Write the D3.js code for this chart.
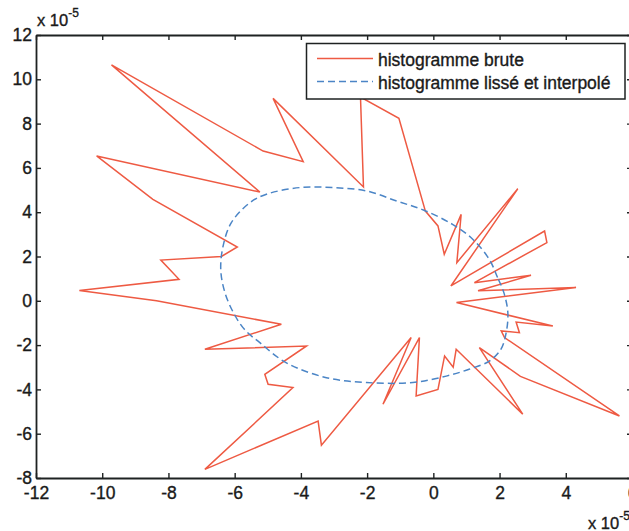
<html>
<head>
<script src="https://d3js.org/d3.v7.min.js"></script>
<style>
  body { margin: 0; background: #fff; }
  svg { display: block; }
  text { font-family: "Liberation Sans", Arial, sans-serif; fill: #1a1a1a; stroke: #1a1a1a; stroke-width: 0.35px; }
</style>
</head>
<body>
<svg id="chart" width="629" height="531"></svg>
<script>

// tick values (axis is in units of 1e-5)
var xTicks = [-12, -10, -8, -6, -4, -2, 0, 2, 4, 6];
var yTicks = [-8, -6, -4, -2, 0, 2, 4, 6, 8, 10, 12];

// raw histogram (polar), x 1e-5
var rawX = [4.31, 1.35, 2.95, 1.24, 3.43, 3.36, 0.53, 2.55, 0.71, 0.84, 0.33, 0.14,
  -0.24, -1.04, -2.20, -2.11, -4.84, -3.93, -5.14, -9.72, -5.24, -10.17, -8.47, -5.92,
  -6.40, -8.23, -7.68, -10.69, -8.36, -4.59, -6.90, -3.83, -5.09, -4.99, -4.24, -6.90,
  -3.48, -3.38, -0.67, -1.52, -0.42, -0.52, 0.14, 0.34, 0.60, 0.69, 2.70, 1.39,
  2.63, 5.62, 2.15, 2.05, 2.60, 2.50, 3.61, 0.70];
var rawY = [0.60, 0.45, 1.15, 0.82, 2.63, 3.15, 0.67, 5.06, 1.72, 3.90, 2.10, 3.38,
  4.05, 8.24, 9.20, 5.14, 9.14, 6.28, 6.76, 10.65, 4.91, 6.54, 4.58, 2.43,
  2.00, 1.84, 0.97, 0.47, 0.00, -1.06, -2.19, -2.04, -3.32, -3.77, -3.92, -7.61,
  -5.43, -6.52, -1.66, -4.67, -1.66, -4.30, -4.00, -2.49, -3.00, -2.19, -5.12, -2.11,
  -3.41, -5.20, -1.66, -1.36, -1.44, -0.96, -1.14, -0.08];

// smoothed + interpolated histogram
var smoothX = [2.13, 1.94, 1.69, 1.19, 0.58, -0.30, -1.10, -2.02, -3.03, -4.04, -5.04,
  -5.54, -6.10, -6.35, -6.42, -6.30, -6.05, -5.70, -5.24, -4.45, -3.23, -2.02, -0.62,
  0.39, 1.08, 1.69, 2.04, 2.20, 2.25];
var smoothY = [0.37, 1.05, 1.87, 2.78, 3.45, 4.10, 4.50, 4.96, 5.11, 5.11, 4.81,
  4.43, 3.53, 2.47, 1.40, 0.40, -0.50, -1.30, -1.89, -2.79, -3.47, -3.69, -3.69,
  -3.40, -3.09, -2.72, -2.19, -1.44, -0.53];

var legendLabels = ["histogramme brute", "histogramme lissé et interpolé"];
var colorRaw = "#ee5a43";
var colorSmooth = "#4b85c6";

var svg = d3.select("#chart");

var x = d3.scaleLinear().domain([-12, 6]).range([36, 632]);
var y = d3.scaleLinear().domain([-8, 12]).range([478, 35]);

var fmt = function(d) { return String(d); };

// bottom axis
svg.append("g")
  .attr("transform", "translate(0," + y(-8) + ")")
  .call(d3.axisBottom(x).tickValues(xTicks).tickFormat(fmt)
    .tickSizeInner(-5).tickSizeOuter(0).tickPadding(9));
// left axis
svg.append("g")
  .attr("transform", "translate(" + x(-12) + ",0)")
  .call(d3.axisLeft(y).tickValues(yTicks).tickFormat(fmt)
    .tickSizeInner(-5).tickSizeOuter(0).tickPadding(4));
// top axis, ticks only
svg.append("g")
  .attr("transform", "translate(0," + y(12) + ")")
  .call(d3.axisTop(x).tickValues(xTicks).tickFormat("")
    .tickSizeInner(-5).tickSizeOuter(0));
// right axis, ticks only
svg.append("g")
  .attr("transform", "translate(" + x(6) + ",0)")
  .call(d3.axisRight(y).tickValues(yTicks).tickFormat("")
    .tickSizeInner(-5).tickSizeOuter(0));

svg.selectAll(".domain").attr("stroke", "#1e2222").attr("stroke-width", 1.8);
svg.selectAll(".tick line").attr("stroke", "#1e2222").attr("stroke-width", 1.4);
svg.selectAll(".tick text").style("font-size", "17.5px").attr("fill", "#1a1a1a");

// data lines
var rawPts = rawX.map(function(d, i) { return [d, rawY[i]]; });
var smoothPts = smoothX.map(function(d, i) { return [d, smoothY[i]]; });

svg.append("path")
  .datum(rawPts)
  .attr("d", d3.line()
    .x(function(d) { return x(d[0]); })
    .y(function(d) { return y(d[1]); })
    .curve(d3.curveLinearClosed))
  .attr("fill", "none")
  .attr("stroke", colorRaw)
  .attr("stroke-width", 1.5)
  .attr("stroke-linejoin", "miter");

svg.append("path")
  .datum(smoothPts)
  .attr("d", d3.line()
    .x(function(d) { return x(d[0]); })
    .y(function(d) { return y(d[1]); })
    .curve(d3.curveCatmullRomClosed.alpha(0.5)))
  .attr("fill", "none")
  .attr("stroke", colorSmooth)
  .attr("stroke-width", 1.5)
  .attr("stroke-dasharray", "7,4");

// exponent labels
var expTop = svg.append("text").attr("x", 37).attr("y", 26).style("font-size", "16.5px");
expTop.append("tspan").text("x 10");
expTop.append("tspan").attr("dy", -9).style("font-size", "12px").text("-5");

var expBot = svg.append("text").attr("x", 588).attr("y", 529).style("font-size", "16.5px");
expBot.append("tspan").text("x 10");
expBot.append("tspan").attr("dy", -9).style("font-size", "12px").text("-5");

// legend
var legend = svg.append("g");
legend.append("rect")
  .attr("x", 306.5).attr("y", 43.5)
  .attr("width", 318.5).attr("height", 55.5)
  .attr("fill", "#fff")
  .attr("stroke", "#1e2222")
  .attr("stroke-width", 1.5);

var legendRows = [
  {y: 58.5, c: colorRaw, dash: null, t: legendLabels[0]},
  {y: 81.5, c: colorSmooth, dash: "7,4", t: legendLabels[1]}
];

legend.selectAll("line.key")
  .data(legendRows)
  .enter()
  .append("line")
    .attr("x1", 317).attr("x2", 373)
    .attr("y1", function(d) { return d.y; })
    .attr("y2", function(d) { return d.y; })
    .attr("stroke", function(d) { return d.c; })
    .attr("stroke-width", 1.5)
    .attr("stroke-dasharray", function(d) { return d.dash; });

legend.selectAll("text.key")
  .data(legendRows)
  .enter()
  .append("text")
    .attr("x", 378)
    .attr("y", function(d) { return d.y + 7; })
    .style("font-size", "17.5px")
    .text(function(d) { return d.t; });

</script>
</body>
</html>
